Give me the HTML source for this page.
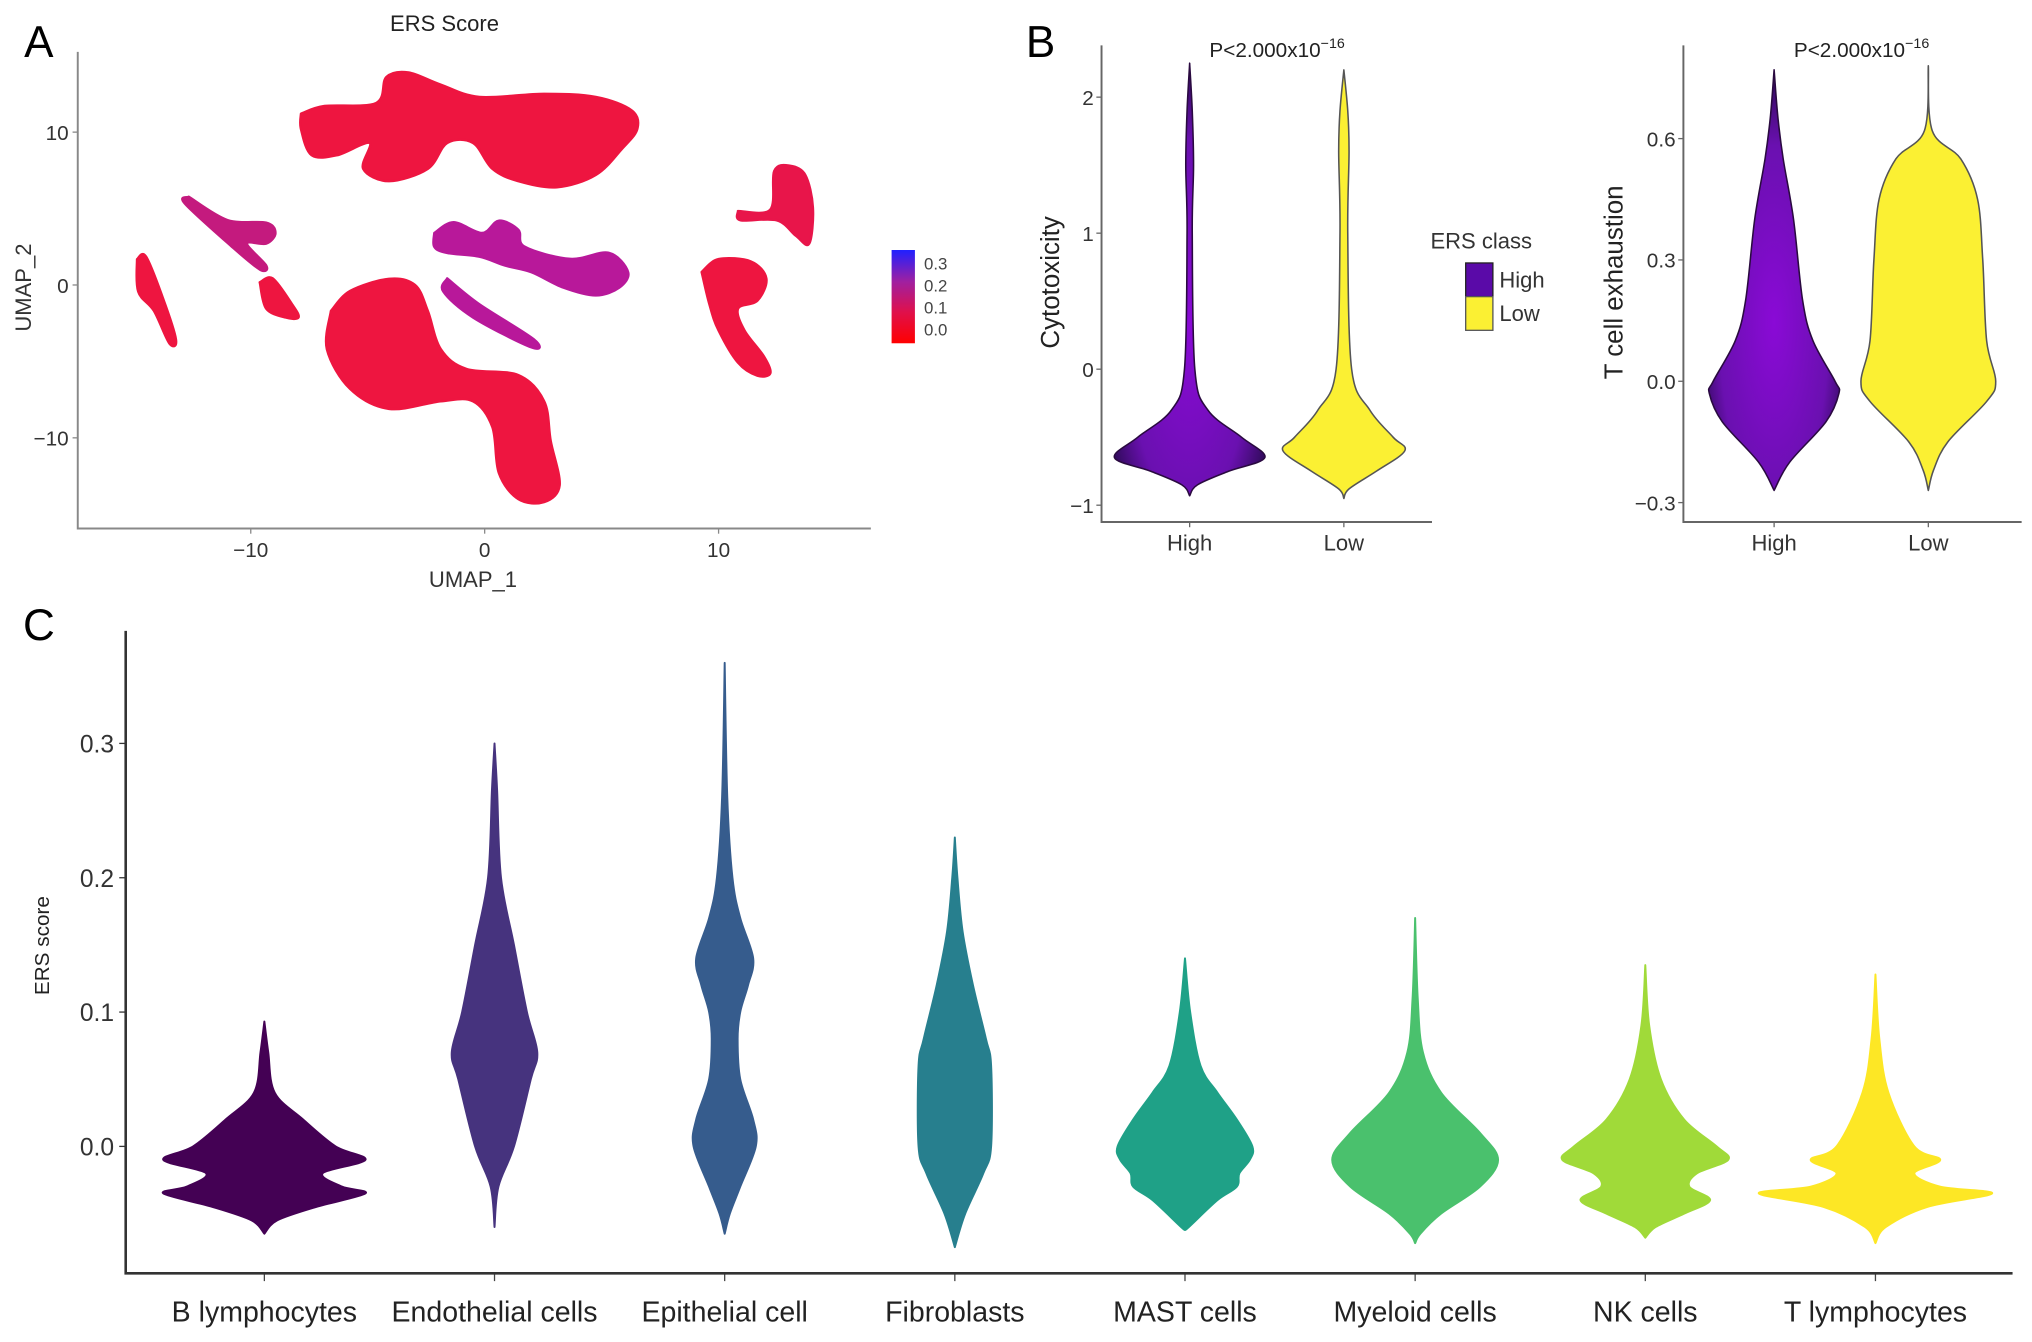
<!DOCTYPE html>
<html><head><meta charset="utf-8"><style>
html,body{margin:0;padding:0;background:#fff;}
svg{display:block;font-family:"Liberation Sans",sans-serif;}
</style></head><body>
<svg id="fig" width="2032" height="1342" viewBox="0 0 1568 1036" preserveAspectRatio="none" xmlns="http://www.w3.org/2000/svg">
<defs>
<radialGradient id="gHigh" cx="50%" cy="60%" r="60%">
<stop offset="0" stop-color="#8a0ad6"/><stop offset="0.7" stop-color="#6a10b0"/><stop offset="1" stop-color="#2c0a55"/>
</radialGradient>
<linearGradient id="gBar" x1="0" y1="1" x2="0" y2="0">
<stop offset="0" stop-color="#ff0000"/><stop offset="0.33" stop-color="#e0104a"/><stop offset="0.66" stop-color="#a020a0"/><stop offset="1" stop-color="#2020ff"/>
</linearGradient>
</defs>
<g id="A"></g>
<g id="B"></g>
<g id="C"></g>
</svg>
<script>
// ---------- Panel A data (UMAP coords) ----------
const umapXTicks=[-10,0,10];
const umapYTicks=[10,0,-10];
const colorbarLabels=["0.3","0.2","0.1","0.0"];
const clusterColors=["#ee1540","#ee1540","#b8189a","#c41a7e","#ee1540","#ee1540","#e8154a","#ee1540","#b8189a"];
const clusterShapes=[
[[-7.85,11.2],[-6.85,11.7],[-4.64,11.9],[-4.2,13.6],[-3.26,13.9],[-1.88,13.1],[-0.22,12.3],[2.54,12.5],[4.75,12.3],[6.3,11.4],[6.52,10.2],[5.86,8.9],[4.75,7.2],[3.09,6.4],[1.44,6.8],[0.33,7.6],[-0.5,9.3],[-1.6,9.3],[-2.43,7.6],[-4.09,6.8],[-5.19,7.6],[-4.92,9.3],[-6.3,8.5],[-7.4,8.5],[-7.85,10.2]],
[[-6.57,-1.7],[-5.75,-0.4],[-4.09,0.4],[-2.98,0],[-2.43,-1.7],[-1.88,-4.2],[-0.77,-5.5],[1.44,-5.9],[2.54,-7.6],[2.82,-10.2],[3.2,-13.1],[2.54,-14.2],[1.44,-14],[0.61,-12.3],[0.33,-9.3],[-0.5,-7.6],[-1.88,-7.6],[-4.09,-8.1],[-5.75,-6.8],[-6.74,-4.2]],
[[-2.15,3.4],[-1.33,4.1],[-0.11,3.4],[0.61,4.2],[1.44,3.6],[1.71,2.5],[3.65,1.7],[5.3,2.1],[6.13,0.85],[5.75,-0.17],[4.75,-0.68],[3.37,-0.17],[1.99,0.85],[0.88,1.27],[-0.22,1.86],[-1.6,2.1],[-2.15,2.5]],
[[-12.65,5.76],[-10.99,4.24],[-9.34,4.07],[-8.95,3.39],[-9.34,2.71],[-10.17,2.71],[-9.34,1.27],[-9.61,1.02],[-10.83,2.54],[-12.82,5.34]],
[[-14.86,1.69],[-14.48,1.86],[-13.76,-0.85],[-13.2,-3.56],[-13.48,-3.81],[-14.14,-1.69],[-14.81,-0.42]],
[[-9.61,0.17],[-9.06,0.42],[-8.23,-1.27],[-7.96,-2.12],[-8.51,-2.12],[-9.34,-1.53]],
[[10.83,4.83],[12.21,4.92],[12.38,7.46],[13.04,7.8],[13.7,7.2],[14.03,5.08],[13.87,2.71],[13.31,3.22],[12.49,4.24],[10.94,4.24]],
[[9.28,0.85],[10.0,1.69],[11.38,1.53],[12.04,0.42],[11.66,-1.02],[10.83,-1.53],[11.1,-2.97],[11.93,-4.66],[12.21,-5.76],[11.66,-5.93],[10.83,-5.08],[10.0,-2.97],[9.61,-1.27]],
[[-1.6,0.42],[-0.22,-1.27],[2.1,-3.56],[1.99,-4.07],[-0.5,-2.12],[-1.77,-0.42]]
];
// ---------- Panel B data ----------
const bGroups=["High","Low"];
const cytoTicks=[2,1,0,-1];
const exhTicks=[0.6,0.3,0.0,-0.3];
const cytoHighVals=[2.25,1.9,1.5,1.0,0,-0.3,-0.5,-0.65,-0.75,-0.85,-0.93];
const cytoHighW=[0,2,3,2,4,14,40,58,30,6,0];
const cytoLowVals=[2.2,1.9,1.6,1.0,0,-0.3,-0.5,-0.6,-0.75,-0.88,-0.95];
const cytoLowW=[0,3,4,3,6,20,38,47,25,4,0];
const exhHighVals=[0.77,0.65,0.55,0.4,0.2,0.1,0.0,-0.03,-0.1,-0.2,-0.27];
const exhHighW=[0,3,7,15,22,30,47,50,40,12,0];
const exhLowVals=[0.78,0.62,0.55,0.45,0.3,0.1,0.0,-0.05,-0.15,-0.22,-0.27];
const exhLowW=[0,3,25,38,42,45,52,45,15,4,0];
// ---------- Panel C data ----------
const cCategories=["B lymphocytes","Endothelial cells","Epithelial cell","Fibroblasts","MAST cells","Myeloid cells","NK cells","T lymphocytes"];
const cColors=["#440154","#46337e","#365c8d","#277f8e","#1fa187","#4ac16d","#a0da39","#fde725"];
const cTicks=[0.3,0.2,0.1,0.0];
const cVals=[
[0.093,0.07,0.04,0.02,0.0,-0.01,-0.02,-0.03,-0.035,-0.045,-0.055,-0.065],
[0.30,0.265,0.2,0.15,0.1,0.07,0.05,0.0,-0.03,-0.06],
[0.36,0.26,0.2,0.17,0.14,0.12,0.1,0.08,0.05,0.02,0.0,-0.03,-0.05,-0.065],
[0.23,0.2,0.16,0.12,0.08,0.06,0.0,-0.02,-0.05,-0.075],
[0.14,0.1,0.06,0.04,0.02,0.0,-0.01,-0.02,-0.03,-0.04,-0.06,-0.062],
[0.17,0.11,0.07,0.04,0.01,-0.01,-0.03,-0.05,-0.065,-0.072],
[0.135,0.09,0.05,0.02,0.0,-0.01,-0.02,-0.03,-0.04,-0.05,-0.06,-0.068],
[0.128,0.08,0.04,0.0,-0.01,-0.02,-0.03,-0.035,-0.045,-0.06,-0.072]
];
const cWidths=[
[0,3,8,30,55,78,45,60,78,40,10,0],
[0,2,5,15,25,33,28,15,3,0],
[0,2,6,12,22,18,12,10,12,22,24,12,4,0],
[0,2,6,14,24,28,28,22,8,0],
[0,4,12,25,40,52,50,42,40,25,3,0],
[0,2,6,20,50,64,50,20,4,0],
[0,3,12,30,55,64,40,34,50,30,8,0],
[0,3,10,30,50,30,50,90,40,8,0]
];
</script>
<script>
const NS="http://www.w3.org/2000/svg";
function mk(parent,tag,attrs,text){const e=document.createElementNS(NS,tag);for(const k in attrs)e.setAttribute(k,attrs[k]);if(text!==undefined)e.textContent=text;parent.appendChild(e);return e;}
function smoothSide(pts){ // catmull-rom open curve
  let d="";
  for(let i=0;i<pts.length-1;i++){
    const p0=pts[Math.max(i-1,0)],p1=pts[i],p2=pts[i+1],p3=pts[Math.min(i+2,pts.length-1)];
    const c1=[p1[0]+(p2[0]-p0[0])/6,p1[1]+(p2[1]-p0[1])/6];
    const c2=[p2[0]-(p3[0]-p1[0])/6,p2[1]-(p3[1]-p1[1])/6];
    d+=` C${c1[0].toFixed(1)},${c1[1].toFixed(1)} ${c2[0].toFixed(1)},${c2[1].toFixed(1)} ${p2[0].toFixed(1)},${p2[1].toFixed(1)}`;
  }
  return d;
}
function violinPath(vals,ws,cx,ys){
  const r=vals.map((v,i)=>[cx+ws[i],ys(v)]);
  const l=vals.map((v,i)=>[cx-ws[i],ys(v)]).reverse();
  return `M${r[0][0].toFixed(1)},${r[0][1].toFixed(1)}`+smoothSide(r)+` L${l[0][0].toFixed(1)},${l[0][1].toFixed(1)}`+smoothSide(l)+"Z";
}

// ===== Panel A =====
const A=document.getElementById('A');
const ax=u=>374+u*18.05, ay=u=>220-u*11.8;
let t=mk(A,'text',{x:30,y:44,'font-size':34,'text-anchor':'middle'},'A');

t=mk(A,'text',{x:343,y:24,'font-size':17,'text-anchor':'middle',fill:'#222'},'ERS Score');

clusterShapes.forEach((s,i)=>{const pts=s.map(q=>[ax(q[0]),ay(q[1])]);pts.push(pts[0]);
const p=mk(A,'path',{d:"M"+pts[0][0].toFixed(1)+","+pts[0][1].toFixed(1)+smoothSide(pts)+"Z",fill:clusterColors[i],stroke:clusterColors[i],'stroke-width':2,'stroke-linejoin':'round'});
});
mk(A,'path',{d:"M60,40 V408 H672",fill:'none',stroke:'#888','stroke-width':1.5});
umapXTicks.forEach(v=>{mk(A,'line',{x1:ax(v),x2:ax(v),y1:408,y2:412,stroke:'#888'});const e=mk(A,'text',{x:ax(v),y:430,'font-size':16,'text-anchor':'middle',fill:'#333'},v<0?'\u2212'+(-v):v);});
umapYTicks.forEach(v=>{mk(A,'line',{x1:56,x2:60,y1:ay(v),y2:ay(v),stroke:'#888'});const e=mk(A,'text',{x:53,y:ay(v)+6,'font-size':16,'text-anchor':'end',fill:'#333'},v<0?'\u2212'+(-v):v);});
t=mk(A,'text',{x:365,y:453,'font-size':17,'text-anchor':'middle',fill:'#333'},'UMAP_1');
t=mk(A,'text',{x:0,y:0,'font-size':17,'text-anchor':'middle',fill:'#333',transform:'translate(24,222) rotate(-90)'},'UMAP_2');
t=mk(A,'rect',{x:688,y:193,width:18,height:72,fill:'url(#gBar)'});
colorbarLabels.forEach((s,i)=>{const e=mk(A,'text',{x:713,y:208+i*17,'font-size':13,fill:'#444'},s);});

// ===== Panel B =====
const B=document.getElementById('B');
t=mk(B,'text',{x:803,y:44,'font-size':34,'text-anchor':'middle'},'B');
function bPanel(x0,x1,cxs,ticks,scaleTop,vTop,scaleBot,vBot,title,titleX,ser,fmt){
  const ys=v=>scaleTop+(vTop-v)*(scaleBot-scaleTop)/(vTop-vBot);
  mk(B,'path',{d:`M${x0},35 V403 H${x1}`,fill:'none',stroke:'#666','stroke-width':1.5});
  ticks.forEach(v=>{mk(B,'line',{x1:x0-4,x2:x0,y1:ys(v),y2:ys(v),stroke:'#666'});const e=mk(B,'text',{x:x0-6,y:ys(v)+6,'font-size':16,'text-anchor':'end',fill:'#333'},fmt(v));});
  bGroups.forEach((g,i)=>{mk(B,'line',{x1:cxs[i],x2:cxs[i],y1:403,y2:407,stroke:'#666'});const e=mk(B,'text',{x:cxs[i],y:425,'font-size':17,'text-anchor':'middle',fill:'#333'},g);});
  ser.forEach((s,i)=>{const p=mk(B,'path',{d:violinPath(s[0],s[1],cxs[i],ys),fill:i==0?'url(#gHigh)':'#fbf033',stroke:i==0?'#2a0a40':'#555','stroke-width':1.2,'stroke-linejoin':'round'});});
  const tt=mk(B,'text',{x:0,y:0,'font-size':20,'text-anchor':'middle',fill:'#222',transform:`translate(${titleX},218) rotate(-90)`},title);
  const pt=mk(B,'text',{x:(cxs[0]+cxs[1])/2+8,y:44,'font-size':16,'text-anchor':'middle',fill:'#222'});
  pt.appendChild(document.createTextNode('P<2.000x10'));mk(pt,'tspan',{dy:-7,'font-size':11},'\u221216');
}
const fmt1=v=>v<0?'\u2212'+(-v):String(v);
const fmt2=v=>v<0?'\u2212'+(-v).toFixed(1):v.toFixed(1);
bPanel(850,1105,[918,1037],cytoTicks,75,2,390,-1,'Cytotoxicity',817,[[cytoHighVals,cytoHighW],[cytoLowVals,cytoLowW]],fmt1);
bPanel(1299,1560,[1369,1488],exhTicks,107,0.6,388,-0.3,'T cell exhaustion',1252,[[exhHighVals,exhHighW],[exhLowVals,exhLowW]],fmt2);
t=mk(B,'text',{x:1143,y:192,'font-size':17,'text-anchor':'middle',fill:'#333'},'ERS class');
t=mk(B,'rect',{x:1131,y:203,width:21,height:26,fill:'#5a0aa8',stroke:'#222','stroke-width':1});
t=mk(B,'rect',{x:1131,y:229,width:21,height:26,fill:'#fbf033',stroke:'#555','stroke-width':1});
t=mk(B,'text',{x:1157,y:222,'font-size':17,fill:'#333'},'High');
t=mk(B,'text',{x:1157,y:248,'font-size':17,fill:'#333'},'Low');

// ===== Panel C =====
const C=document.getElementById('C');
const cx0=204,cdx=177.6;const cxs=i=>cx0+i*cdx;const cys=v=>885-v*1037;
t=mk(C,'text',{x:30,y:494,'font-size':34,'text-anchor':'middle'},'C');
cCategories.forEach((c,i)=>{const p=mk(C,'path',{d:violinPath(cVals[i],cWidths[i],cxs(i),cys),fill:cColors[i],stroke:cColors[i],'stroke-width':1.5,'stroke-linejoin':'round'});
 mk(C,'line',{x1:cxs(i),x2:cxs(i),y1:983,y2:989,stroke:'#444'});
 const e=mk(C,'text',{x:cxs(i),y:1020,'font-size':22,'text-anchor':'middle',fill:'#222'},c);});
mk(C,'path',{d:"M97,487 V983 H1553",fill:'none',stroke:'#333','stroke-width':2});
cTicks.forEach(v=>{mk(C,'line',{x1:92,x2:97,y1:cys(v),y2:cys(v),stroke:'#333'});const e=mk(C,'text',{x:88,y:cys(v)+7,'font-size':19,'text-anchor':'end',fill:'#333'},v.toFixed(1));});
t=mk(C,'text',{x:0,y:0,'font-size':16,'text-anchor':'middle',fill:'#222',transform:'translate(38,730) rotate(-90)'},'ERS score');
</script>
</body></html>
